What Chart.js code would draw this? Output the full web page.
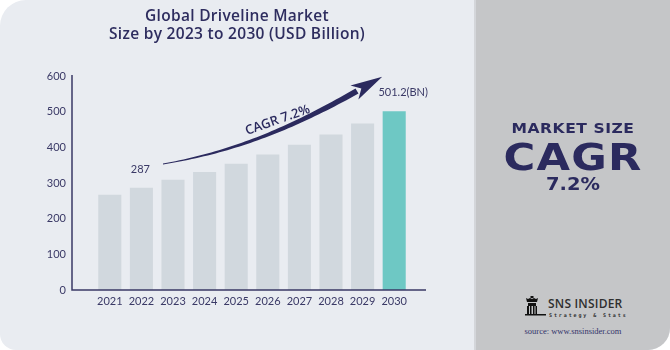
<!DOCTYPE html>
<html>
<head>
<meta charset="utf-8">
<script src="https://cdn.jsdelivr.net/npm/chart.js"></script>
<style>
  body { margin: 0; background: #ffffff; }
  #wrap { position: relative; width: 670px; height: 350px; background: #e9ecf1; border-radius: 26px 0 22px 16px; overflow: hidden; }
  #title { position: absolute; left: 0; top: 6px; width: 474px; text-align: center; font-family: "Open Sans", sans-serif; font-weight: 600; font-size: 15.5px; line-height: 18px; letter-spacing: 0.3px; color: #2e2d5f; }
  #chartBox { position: absolute; left: 0; top: 0; width: 474px; height: 350px; }
  #side { position: absolute; left: 474px; top: 0; width: 196px; height: 350px; background: #c5c6c8; border-left: 2px solid #d4d6da; box-sizing: border-box; }
  .big { position: absolute; left: 0; width: 194px; text-align: center; font-family: "DejaVu Sans", sans-serif; font-weight: bold; color: #2b2a5e; }
  #ms { top: 118px; font-size: 14px; line-height: 20px; letter-spacing: 0.5px; transform: scaleX(1.11); }
  #cagr { top: 136px; font-size: 38px; line-height: 42px; letter-spacing: 1px; transform: scaleX(1.14); }
  #pct { top: 172px; font-size: 18px; line-height: 24px; transform: scaleX(1.08); }
  #logoTxt { position: absolute; left: 72px; top: 295px; font-family: "Open Sans", sans-serif; font-size: 12px; font-weight: 600; color: #2f2f2f; letter-spacing: 0.2px; }
  #logoSub { position: absolute; left: 73px; top: 312px; font-family: "DejaVu Sans Mono", monospace; font-size: 5px; font-weight: bold; color: #2f2f2f; letter-spacing: 1.9px; }
  #src { position: absolute; left: 0; width: 194px; top: 326px; text-align: center; font-family: "Liberation Serif", serif; font-size: 8.5px; color: #33336a; }
  #rook { position: absolute; left: 48px; top: 296px; }
</style>
</head>
<body>
<div id="wrap">
  <div id="chartBox"><canvas id="marketChart" width="474" height="350"></canvas></div>
  <div id="title">Global Driveline Market<br>Size by 2023 to 2030 (USD Billion)</div>
  <div id="side">
    <div class="big" id="ms">MARKET SIZE</div>
    <div class="big" id="cagr">CAGR</div>
    <div class="big" id="pct">7.2%</div>
    <svg id="rook" width="22" height="20" viewBox="0 0 22 20">
      <rect x="6.5" y="0" width="3" height="2" fill="#111"/>
      <path d="M2 2 L4 3 L6 2 L8 3 L10 2 L12 3 L14 2 L13 6 L3 6 Z" fill="#111"/>
      <rect x="4" y="7" width="8" height="3" fill="#111"/>
      <rect x="3" y="10" width="2" height="8" fill="#111"/>
      <rect x="6" y="10" width="1.5" height="8" fill="#111"/>
      <rect x="9" y="10" width="1.5" height="8" fill="#111"/>
      <rect x="11.5" y="10" width="1.5" height="8" fill="#111"/>
      <rect x="1" y="18" width="21" height="1.5" fill="#111"/>
    </svg>
    <div id="logoTxt">SNS INSIDER</div>
    <div id="logoSub">Strategy &amp; Stats</div>
    <div id="src">source: www.snsinsider.com</div>
  </div>
</div>
<script>
const years = ['2021', '2022', '2023', '2024', '2025', '2026', '2027', '2028', '2029', '2030'];
const marketSize = [267, 287, 309, 331, 354, 380, 407, 436, 467, 501.2];
const barColors = ['#d1d8de', '#d1d8de', '#d1d8de', '#d1d8de', '#d1d8de', '#d1d8de', '#d1d8de', '#d1d8de', '#d1d8de', '#6ec8c4'];
const yTicks = [0, 100, 200, 300, 400, 500, 600];

const navy = '#2b2a5e';
const tickFont = { family: 'Lato', size: 11 };

// axis lines, value labels and the CAGR arrow
const decor = {
  id: 'decor',
  afterDatasetsDraw(chart) {
    const { ctx, scales: { x, y } } = chart;
    const y0 = y.getPixelForValue(0);
    ctx.save();
    ctx.strokeStyle = '#3a3966';
    ctx.lineWidth = 1.5;
    ctx.beginPath();
    ctx.moveTo(72, y.getPixelForValue(600) - 1);
    ctx.lineTo(72, y0);
    ctx.lineTo(426, y0);
    ctx.stroke();

    ctx.fillStyle = '#3a3966';
    ctx.font = '11px Lato';
    ctx.textAlign = 'center';
    ctx.textBaseline = 'middle';
    ctx.fillText('287', x.getPixelForValue(1) - 1, y.getPixelForValue(marketSize[1]) - 18);
    ctx.fillText(marketSize[9] + '(BN)', x.getPixelForValue(9) + 9, y.getPixelForValue(marketSize[9]) - 19);

    // tapered arrow shaft (cubic curve)
    const p0 = [163, 164], c1 = [233, 152], c2 = [290, 129], p3 = [357, 91];
    const up = [], down = [];
    const n = 50;
    for (let i = 0; i <= n; i++) {
      const t = i / n, s = 1 - t;
      const bx = s * s * s * p0[0] + 3 * s * s * t * c1[0] + 3 * s * t * t * c2[0] + t * t * t * p3[0];
      const by = s * s * s * p0[1] + 3 * s * s * t * c1[1] + 3 * s * t * t * c2[1] + t * t * t * p3[1];
      const dx = 3 * s * s * (c1[0] - p0[0]) + 6 * s * t * (c2[0] - c1[0]) + 3 * t * t * (p3[0] - c2[0]);
      const dy = 3 * s * s * (c1[1] - p0[1]) + 6 * s * t * (c2[1] - c1[1]) + 3 * t * t * (p3[1] - c2[1]);
      const len = Math.hypot(dx, dy);
      const w = 0.4 + 2.6 * t;
      up.push([bx + dy / len * w, by - dx / len * w]);
      down.push([bx - dy / len * w, by + dx / len * w]);
    }
    ctx.fillStyle = navy;
    ctx.beginPath();
    ctx.moveTo(up[0][0], up[0][1]);
    up.forEach(p => ctx.lineTo(p[0], p[1]));
    for (let i = down.length - 1; i >= 0; i--) ctx.lineTo(down[i][0], down[i][1]);
    ctx.closePath();
    ctx.fill();

    // arrow head
    const dir = [p3[0] - c2[0], p3[1] - c2[1]];
    const dl = Math.hypot(dir[0], dir[1]);
    const ux = dir[0] / dl, uy = dir[1] / dl;
    const tip = [p3[0] + ux * 29, p3[1] + uy * 29];
    ctx.beginPath();
    ctx.moveTo(tip[0], tip[1]);
    ctx.lineTo(p3[0] - ux * 3 + uy * 8, p3[1] - uy * 3 - ux * 8);
    ctx.lineTo(p3[0] + ux * 5, p3[1] + uy * 5);
    ctx.lineTo(p3[0] - ux * 3 - uy * 8, p3[1] - uy * 3 + ux * 8);
    ctx.closePath();
    ctx.fill();

    ctx.translate(247, 135);
    ctx.rotate(-19.5 * Math.PI / 180);
    ctx.font = '600 13px "Open Sans"';
    ctx.textAlign = 'left';
    ctx.textBaseline = 'alphabetic';
    ctx.fillText('CAGR 7.2%', 0, 0);
    ctx.restore();
  }
};

new Chart(document.getElementById('marketChart'), {
  type: 'bar',
  data: {
    labels: years,
    datasets: [{
      data: marketSize,
      backgroundColor: barColors,
      borderWidth: 0,
      categoryPercentage: 1,
      barPercentage: 0.73
    }]
  },
  options: {
    responsive: false,
    animation: false,
    layout: { padding: { left: 0, top: 76, right: 64, bottom: 0 } },
    plugins: { legend: { display: false }, tooltip: { enabled: false } },
    scales: {
      x: {
        grid: { display: false, drawTicks: false },
        border: { display: false },
        ticks: { color: '#3a3966', font: tickFont, padding: 5 },
        afterFit(scale) { scale.height = 60; }
      },
      y: {
        min: 0,
        max: 600,
        afterBuildTicks(scale) { scale.ticks = yTicks.map(v => ({ value: v })); },
        grid: { display: false, drawTicks: false },
        border: { display: false },
        ticks: { color: '#3a3966', font: tickFont, padding: 28 },
        afterFit(scale) { scale.width = 94; }
      }
    }
  },
  plugins: [decor]
});
</script>
</body>
</html>
